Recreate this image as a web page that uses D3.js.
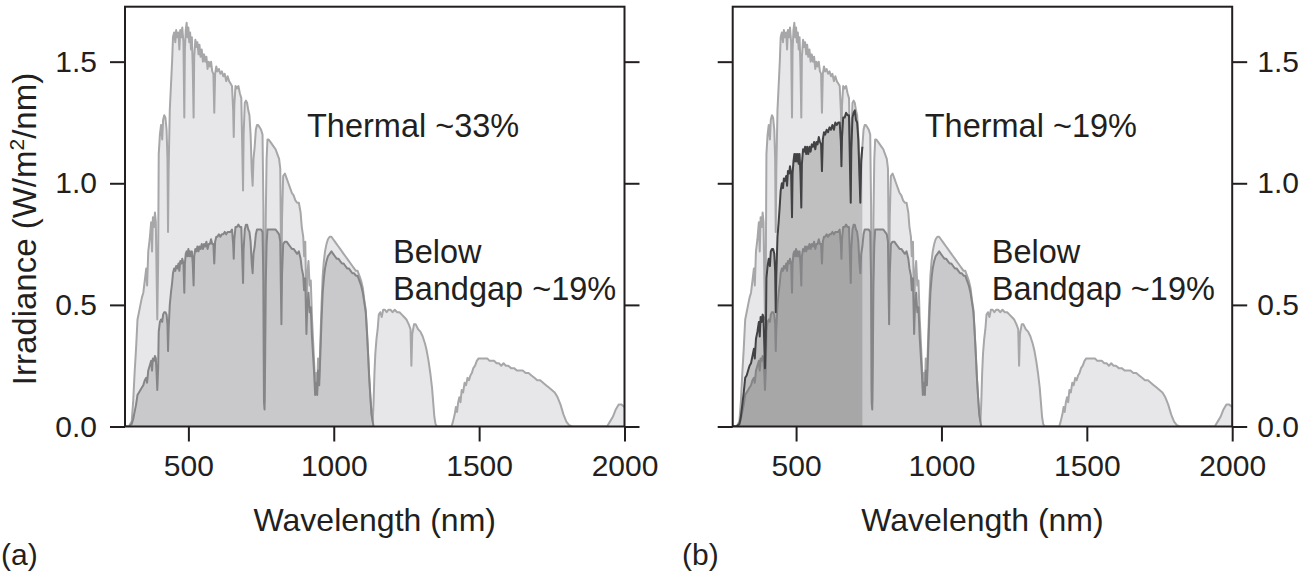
<!DOCTYPE html>
<html>
<head>
<meta charset="utf-8">
<script src="https://cdn.jsdelivr.net/npm/d3@7"></script>
<style>
  body { margin: 0; background: #fff; }
  svg { display: block; }
  text { font-family: "Liberation Sans", Arial, Helvetica, sans-serif; fill: #231f20; }
</style>
</head>
<body>
<svg id="chart" width="1312" height="578"></svg>
<script>
// ---------------- DATA ----------------
const wavelengthNm = [
  280, 295, 305, 310, 315, 320, 325, 330, 335, 340,
  345, 350, 355, 358, 362, 367, 372, 375, 378, 382,
  385, 388, 391, 393, 396, 398, 402, 406, 410, 413,
  417, 421, 425, 428, 430, 432, 436, 440, 444, 447,
  451, 455, 458, 462, 466, 469, 472, 476, 479, 483,
  486, 488, 491, 494, 497, 500, 503, 506, 509, 512,
  515, 518, 520, 524, 528, 531, 535, 538, 542, 546,
  550, 554, 558, 562, 566, 570, 574, 578, 582, 586,
  589, 592, 596, 600, 605, 610, 615, 620, 625, 630,
  635, 640, 645, 650, 654, 656, 658, 662, 667, 672,
  677, 682, 686, 688, 690, 694, 698, 702, 706, 710,
  714, 718, 721, 724, 728, 732, 736, 740, 745, 750,
  755, 758, 760, 762, 764, 766, 769, 772, 776, 782,
  788, 794, 800, 806, 812, 816, 818, 820, 822, 826,
  832, 838, 844, 850, 856, 862, 868, 874, 880, 886,
  890, 895, 898, 902, 906, 909, 913, 917, 921, 925,
  929, 933, 936, 940, 943, 946, 950, 954, 958, 962,
  966, 970, 975, 980, 986, 992, 998, 1004, 1010, 1016,
  1022, 1028, 1034, 1040, 1046, 1052, 1058, 1064, 1070, 1076,
  1082, 1088, 1094, 1100, 1105, 1110, 1114, 1118, 1122, 1126,
  1130, 1134, 1137, 1140, 1143, 1147, 1151, 1155, 1160, 1165,
  1170, 1176, 1182, 1188, 1195, 1202, 1210, 1218, 1226, 1234,
  1242, 1250, 1258, 1264, 1267, 1270, 1276, 1282, 1290, 1298,
  1306, 1314, 1320, 1326, 1332, 1338, 1342, 1346, 1350, 1355,
  1405, 1410, 1416, 1420, 1424, 1428, 1432, 1436, 1440, 1445,
  1450, 1455, 1460, 1465, 1470, 1475, 1480, 1486, 1492, 1498,
  1505, 1512, 1520, 1528, 1536, 1544, 1552, 1560, 1568, 1576,
  1584, 1592, 1600, 1610, 1620, 1630, 1640, 1650, 1660, 1670,
  1680, 1690, 1700, 1710, 1720, 1730, 1740, 1750, 1760, 1770,
  1780, 1790, 1800, 1810, 1820, 1940, 1950, 1960, 1970, 1980,
  1990, 2000
];

// AM1.5 solar irradiance (W/m^2/nm)
const solarIrradiance = [
  0, 0, 0.02, 0.10, 0.22, 0.32, 0.44, 0.47, 0.50, 0.53,
  0.55, 0.60, 0.65, 0.58, 0.72, 0.77, 0.84, 0.72, 0.86, 0.82,
  0.88, 0.84, 0.60, 0.44, 0.68, 1.12, 1.20, 1.24, 1.18, 1.26,
  1.28, 1.27, 1.22, 1.10, 0.80, 1.05, 1.30, 1.40, 1.50, 1.60,
  1.62, 1.58, 1.63, 1.60, 1.62, 1.55, 1.63, 1.60, 1.64, 1.58,
  1.27, 1.55, 1.63, 1.66, 1.60, 1.64, 1.58, 1.62, 1.55, 1.60,
  1.48, 1.27, 1.52, 1.59, 1.56, 1.58, 1.53, 1.57, 1.52, 1.55,
  1.50, 1.53, 1.50, 1.52, 1.47, 1.50, 1.48, 1.50, 1.46, 1.45,
  1.29, 1.45, 1.48, 1.46, 1.47, 1.45, 1.46, 1.44, 1.45, 1.42,
  1.44, 1.42, 1.41, 1.40, 1.30, 1.19, 1.32, 1.40, 1.39, 1.40,
  1.37, 1.35, 1.10, 0.97, 1.20, 1.33, 1.34, 1.33, 1.30, 1.28,
  1.20, 1.05, 0.99, 1.10, 1.15, 1.22, 1.24, 1.24, 1.23, 1.22,
  1.20, 0.90, 0.15, 0.10, 0.40, 0.85, 1.10, 1.18, 1.18, 1.17,
  1.16, 1.15, 1.14, 1.12, 1.10, 1.06, 0.80, 0.55, 0.85, 1.03,
  1.04, 1.02, 1.00, 0.98, 0.96, 0.95, 0.93, 0.92, 0.92, 0.88,
  0.82, 0.78, 0.70, 0.76, 0.47, 0.62, 0.68, 0.58, 0.60, 0.45,
  0.35, 0.25, 0.16, 0.22, 0.15, 0.28, 0.20, 0.35, 0.50, 0.62,
  0.68, 0.72, 0.75, 0.77, 0.78, 0.78, 0.77, 0.76, 0.75, 0.74,
  0.73, 0.72, 0.71, 0.70, 0.69, 0.68, 0.67, 0.66, 0.65, 0.64,
  0.64, 0.62, 0.60, 0.57, 0.52, 0.48, 0.40, 0.30, 0.20, 0.12,
  0.05, 0.02, 0.10, 0.22, 0.30, 0.36, 0.40, 0.46, 0.47, 0.45,
  0.48, 0.48, 0.47, 0.48, 0.48, 0.47, 0.48, 0.47, 0.47, 0.46,
  0.45, 0.44, 0.42, 0.40, 0.25, 0.38, 0.42, 0.42, 0.40, 0.39,
  0.37, 0.34, 0.31, 0.27, 0.22, 0.16, 0.10, 0.04, 0.01, 0,
  0, 0.02, 0.05, 0.08, 0.06, 0.10, 0.12, 0.10, 0.15, 0.14,
  0.18, 0.17, 0.20, 0.19, 0.21, 0.22, 0.24, 0.25, 0.27, 0.28,
  0.28, 0.28, 0.28, 0.28, 0.27, 0.27, 0.27, 0.26, 0.26, 0.25,
  0.26, 0.25, 0.25, 0.24, 0.24, 0.23, 0.23, 0.23, 0.22, 0.22,
  0.21, 0.20, 0.19, 0.19, 0.18, 0.17, 0.16, 0.15, 0.14, 0.12,
  0.09, 0.05, 0.02, 0.005, 0, 0, 0.02, 0.04, 0.07, 0.09,
  0.09, 0.08
];

// Power usable by a single bandgap (~1130 nm) cell, same wavelengths from 280 to 1137 nm
const singleJunctionUsable = [
  0, 0, 0.01, 0.03, 0.06, 0.09, 0.13, 0.14, 0.15, 0.16,
  0.17, 0.19, 0.20, 0.18, 0.23, 0.25, 0.27, 0.23, 0.28, 0.27,
  0.29, 0.28, 0.21, 0.15, 0.24, 0.39, 0.43, 0.44, 0.43, 0.46,
  0.47, 0.47, 0.46, 0.42, 0.31, 0.40, 0.50, 0.55, 0.59, 0.63,
  0.65, 0.64, 0.66, 0.65, 0.67, 0.64, 0.68, 0.67, 0.69, 0.67,
  0.55, 0.67, 0.71, 0.72, 0.70, 0.73, 0.70, 0.72, 0.70, 0.72,
  0.67, 0.58, 0.70, 0.73, 0.72, 0.74, 0.72, 0.74, 0.73, 0.75,
  0.73, 0.75, 0.74, 0.76, 0.73, 0.75, 0.75, 0.77, 0.75, 0.75,
  0.67, 0.76, 0.78, 0.78, 0.79, 0.78, 0.79, 0.79, 0.80, 0.79,
  0.80, 0.80, 0.80, 0.81, 0.75, 0.69, 0.77, 0.82, 0.82, 0.83,
  0.82, 0.82, 0.67, 0.59, 0.73, 0.81, 0.83, 0.83, 0.81, 0.80,
  0.76, 0.67, 0.63, 0.71, 0.74, 0.79, 0.81, 0.81, 0.81, 0.81,
  0.80, 0.60, 0.10, 0.07, 0.27, 0.58, 0.75, 0.81, 0.81, 0.81,
  0.81, 0.81, 0.81, 0.80, 0.79, 0.76, 0.58, 0.42, 0.62, 0.75,
  0.76, 0.76, 0.75, 0.74, 0.73, 0.73, 0.72, 0.71, 0.72, 0.69,
  0.65, 0.62, 0.56, 0.61, 0.38, 0.50, 0.55, 0.47, 0.49, 0.37,
  0.29, 0.21, 0.13, 0.18, 0.13, 0.23, 0.17, 0.30, 0.44, 0.55,
  0.61, 0.65, 0.68, 0.70, 0.71, 0.72, 0.71, 0.70, 0.69, 0.69,
  0.68, 0.67, 0.67, 0.66, 0.65, 0.65, 0.64, 0.63, 0.63, 0.62,
  0.62, 0.60, 0.58, 0.55, 0.51, 0.47, 0.39, 0.30, 0.20, 0.12,
  0.05, 0.02, 0
];

// Power usable by the wide-gap (~730 nm) top cell of the tandem, wavelengths 280 to 728 nm
const topCellUsable = [
  0, 0, 0.01, 0.04, 0.09, 0.14, 0.20, 0.21, 0.23, 0.25,
  0.26, 0.29, 0.32, 0.28, 0.36, 0.39, 0.43, 0.37, 0.45, 0.43,
  0.46, 0.45, 0.32, 0.24, 0.37, 0.61, 0.66, 0.69, 0.66, 0.72,
  0.73, 0.73, 0.71, 0.64, 0.47, 0.62, 0.78, 0.84, 0.91, 0.97,
  1.00, 0.98, 1.02, 1.01, 1.03, 0.99, 1.05, 1.04, 1.07, 1.04,
  0.86, 1.04, 1.09, 1.12, 1.09, 1.12, 1.09, 1.12, 1.08, 1.12,
  1.04, 0.90, 1.08, 1.14, 1.13, 1.15, 1.12, 1.15, 1.12, 1.15,
  1.13, 1.16, 1.15, 1.17, 1.14, 1.17, 1.16, 1.19, 1.17, 1.16,
  1.05, 1.18, 1.21, 1.20, 1.22, 1.21, 1.23, 1.22, 1.24, 1.22,
  1.25, 1.24, 1.25, 1.25, 1.17, 1.07, 1.19, 1.27, 1.27, 1.29,
  1.28, 1.28, 1.03, 0.92, 1.14, 1.27, 1.29, 1.30, 1.26, 1.25,
  1.18, 1.03, 0.92, 1.09, 1.15
];

const xTickValues = [500, 1000, 1500, 2000];
const yTickValues = [0, 0.5, 1.0, 1.5];
const panelLetters = ["(a)", "(b)"];
const thermalLabels = ["Thermal ~33%", "Thermal ~19%"];
const belowLabels = ["Below", "Bandgap ~19%"];
const xTitle = "Wavelength (nm)";

// ---------------- LAYOUT ----------------
const svg = d3.select("#chart");
const plotW = 499.5, plotH = 419.8, plotTop = 6.7;
const panelLeft = [125, 732.7];
const thermalPos = [[182, 130.5], [192, 130.5]];
const belowPos = [[268, 256.5], [259, 256.5]];
const ink = "#231f20";

const x = d3.scaleLinear().domain([282, 2000]).range([0, plotW]);
const y = d3.scaleLinear().domain([0, 1.726]).range([plotH, 0]);

const pts = (vals) => vals.map((v, i) => [wavelengthNm[i], v]);
const solarPts = pts(solarIrradiance);
const singlePts = pts(singleJunctionUsable);
const topPts = pts(topCellUsable);

const area = d3.area().x(d => x(d[0])).y0(y(0)).y1(d => y(d[1]));
const line = d3.line().x(d => x(d[0])).y(d => y(d[1]));

svg.append("defs").append("clipPath").attr("id", "plotclip")
  .append("rect").attr("width", plotW).attr("height", plotH);

panelLeft.forEach((left, p) => {
  const g = svg.append("g").attr("transform", `translate(${left},${plotTop})`);
  const pg = g.append("g").attr("clip-path", "url(#plotclip)");

  pg.append("path").datum(solarPts).attr("d", area).attr("fill", "#e7e7e9");
  pg.append("path").datum(singlePts).attr("d", area).attr("fill", "#c9c9cb");
  if (p === 1) {
    pg.append("path").datum(topPts).attr("d", area).attr("fill", "#000").attr("fill-opacity", 0.17);
  }
  pg.append("path").datum(solarPts).attr("d", line).attr("fill", "none")
    .attr("stroke", "#a7a7a9").attr("stroke-width", 2).attr("stroke-linejoin", "round");
  pg.append("path").datum(singlePts).attr("d", line).attr("fill", "none")
    .attr("stroke", "#858588").attr("stroke-width", 2).attr("stroke-linejoin", "round");
  if (p === 1) {
    pg.append("path").datum(topPts).attr("d", line).attr("fill", "none")
      .attr("stroke", "#424244").attr("stroke-width", 2).attr("stroke-linejoin", "round");
  }

  // axes
  const fmt = d3.format(".1f");
  const styleAxis = (sel) => {
    sel.select(".domain").remove();
    sel.selectAll(".tick line").attr("stroke", ink).attr("stroke-width", 2);
    sel.selectAll(".tick text").attr("font-size", 30).attr("fill", ink)
      .attr("font-family", '"Liberation Sans", Arial, Helvetica, sans-serif');
  };
  g.append("g").attr("transform", `translate(0,${plotH})`)
    .call(d3.axisBottom(x).tickValues(xTickValues).tickSize(15).tickPadding(13).tickFormat(d3.format("d")))
    .call(styleAxis);
  g.append("g")
    .call(d3.axisLeft(y).tickValues(yTickValues).tickSize(15).tickPadding(13)
      .tickFormat(p === 0 ? fmt : () => ""))
    .call(styleAxis);
  g.append("g").attr("transform", `translate(${plotW},0)`)
    .call(d3.axisRight(y).tickValues(yTickValues).tickSize(15).tickPadding(10)
      .tickFormat(p === 1 ? fmt : () => ""))
    .call(styleAxis);

  g.append("rect").attr("width", plotW).attr("height", plotH)
    .attr("fill", "none").attr("stroke", ink).attr("stroke-width", 2);

  // annotations
  g.append("text").attr("x", thermalPos[p][0]).attr("y", thermalPos[p][1])
    .attr("font-size", 32.5).text(thermalLabels[p]);
  g.append("text").attr("x", belowPos[p][0]).attr("y", belowPos[p][1])
    .attr("font-size", 32.5).text(belowLabels[0]);
  g.append("text").attr("x", belowPos[p][0]).attr("y", belowPos[p][1] + 37)
    .attr("font-size", 32.5).text(belowLabels[1]);

  // x title
  svg.append("text").attr("x", left + plotW / 2).attr("y", 531)
    .attr("text-anchor", "middle").attr("font-size", 32).text(xTitle);
  // panel letter
  svg.append("text").attr("x", p === 0 ? 1 : 682).attr("y", 565)
    .attr("font-size", 30).text(panelLetters[p]);
});

// y title
const yt = svg.append("text").attr("transform", "translate(36,229) rotate(-90)")
  .attr("text-anchor", "middle").attr("font-size", 33);
yt.append("tspan").text("Irradiance (W/m");
yt.append("tspan").attr("font-size", 21).attr("dy", -12).text("2");
yt.append("tspan").attr("dy", 12).text("/nm)");
</script>
</body>
</html>
